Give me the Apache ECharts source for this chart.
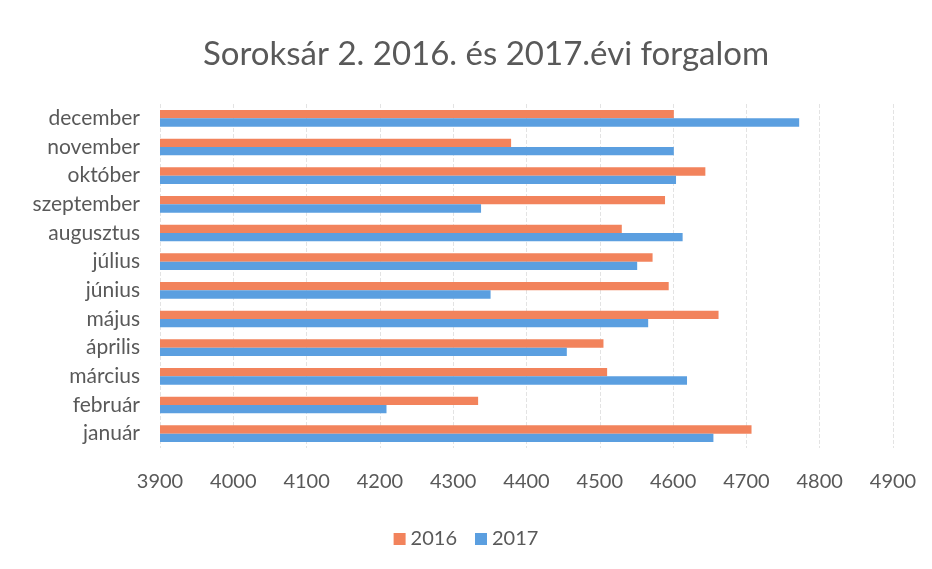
<!DOCTYPE html>
<html>
<head>
<meta charset="utf-8">
<script src="https://cdn.jsdelivr.net/npm/echarts@6/dist/echarts.min.js"></script>
<style>
    html, body { margin: 0; padding: 0; background: #fff; }
    #chart { width: 932px; height: 569px; }
</style>
</head>
<body>
<div id="chart"></div>
<script>
const months = ["január", "február", "március", "április", "május", "június",
    "július", "augusztus", "szeptember", "október", "november", "december"]
const values2016 = [4707, 4334, 4510, 4505, 4662, 4594, 4572, 4530, 4589, 4644, 4379, 4601]
const values2017 = [4655, 4209, 4619, 4455, 4566, 4351, 4551, 4613, 4338, 4604, 4601, 4772]
const textColor = "#595959"
const font = "Lato"

const chart = echarts.init(document.getElementById("chart"))
chart.setOption({
    animation: false,
    title: {
        text: "Soroksár 2. 2016. és 2017.évi forgalom",
        left: 481,
        top: 33,
        textAlign: "center",
        textStyle: { fontFamily: font, fontSize: 33, fontWeight: "normal", color: textColor },
    },
    legend: {
        data: ["2016", "2017"],
        top: 524,
        left: "center",
        icon: "rect",
        itemWidth: 12,
        itemHeight: 12,
        itemGap: 18,
        textStyle: { fontFamily: font, fontSize: 20, color: textColor },
    },
    grid: {
        left: 160,
        right: 39,
        top: 104,
        bottom: 121,
    },
    xAxis: {
        type: "value",
        min: 3900,
        max: 4900,
        interval: 100,
        axisLine: { show: false },
        axisTick: { show: false },
        axisLabel: {
            margin: 24,
            fontFamily: font,
            fontSize: 20,
            color: textColor,
            formatter: function (value) {
                return String(value)
            },
        },
        splitLine: { lineStyle: { color: "#e3e3e3", type: "dashed" } },
    },
    yAxis: {
        type: "category",
        data: months,
        axisLine: { show: false },
        axisTick: { show: false },
        axisLabel: { margin: 20, fontFamily: font, fontSize: 21, color: textColor },
    },
    series: [
        {
            name: "2016",
            type: "bar",
            data: values2016,
            color: "#f2835c",
            barGap: "0%",
            barCategoryGap: "42%",
        },
        {
            name: "2017",
            type: "bar",
            data: values2017,
            color: "#5b9fe0",
            barGap: "0%",
            barCategoryGap: "42%",
        },
    ],
})
</script>
</body>
</html>
